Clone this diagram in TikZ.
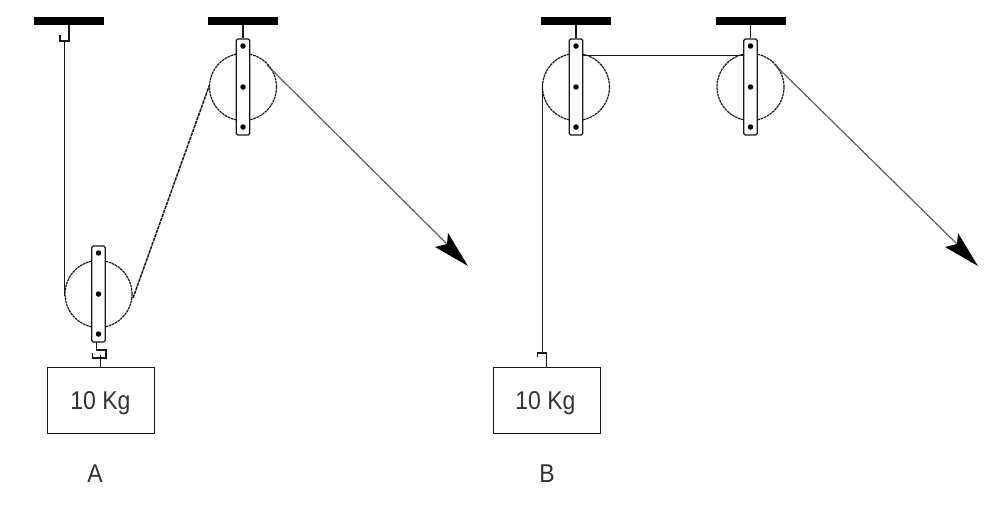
\documentclass[tikz,border=0pt]{standalone}
\usepackage{fontspec}
\usepackage{graphicx}
\setmainfont{Liberation Sans}
\tikzset{
  line/.style={draw=black!90,line width=1.3pt},
  rope/.style={draw=black!90,line width=1.6pt},
  thinrope/.style={draw=black!70,line width=1.2pt,dash pattern=on 1.7pt off .5pt},
  slant/.style={draw=black!90,line width=1.5pt,dash pattern=on 3.5pt off .8pt},
  wheel/.style={circle,draw=black!90,line width=1.2pt,dash pattern=on 2.6pt off .7pt,minimum size=67pt,inner sep=0pt,fill=white},
  strap/.style={rectangle,rounded corners=1.5pt,draw=black!90,line width=1.3pt,fill=white,minimum width=13.5pt,minimum height=96pt,inner sep=0pt},
  bar/.style={rectangle,fill=black,minimum width=70pt,minimum height=8pt,inner sep=0pt},
  hole/.style={circle,fill=black,minimum size=5.5pt,inner sep=0pt},
  load/.style={rectangle,draw=black!90,line width=1pt,minimum width=107pt,minimum height=66pt,inner sep=0pt},
  caption/.style={font=\fontsize{23}{26}\selectfont,text=black!80,inner sep=0pt},
  pulley/.pic={
    \node[wheel] (-w) at (0,0) {};
    \node[strap] (-s) at (0,0) {};
    \node[hole] (-h1) at (0,-41) {};
    \node[hole] (-h2) at (0,0) {};
    \node[hole] (-h3) at (0,40) {};
  }
}
\begin{document}
\begin{tikzpicture}[x=1pt,y=-1pt]
\useasboundingbox (0,0) rectangle (1000,507);
% --- A ---
\node[bar] (a1) at (69,21) {};
\node[bar] (a2) at (243,21) {};
\pic (pa) at (243,87) {pulley};
\pic (pb) at (98.5,294) {pulley};
\draw[line] (a2.south) -- (pa-s.north);
\coordinate (hka) at (69,41);
\coordinate (hkb) at (60,41);
\coordinate (hkc) at (60,35);
\draw[line] (a1.south) -- (hka) -- (hkb) -- (hkc);
\coordinate (ra1) at (64.5,41);
\coordinate (ra2) at (64.5,296);
\draw[rope] (ra1) -- (ra2);
\coordinate (ra3) at (133,298);
\coordinate (ra4) at (209.5,85);
\draw[slant] (ra3) -- (ra4);
\coordinate (ra5) at (267,65);
\coordinate (ra6) at (447,244);
\draw[thinrope] (ra5) -- (ra6);
\coordinate (tipa) at (468,266);
\coordinate (ba1) at (448,233);
\coordinate (ba2) at (435,247);
\fill[black] (tipa) -- (ba1) -- (ra6) -- (ba2) -- cycle;
\node[load] (la) at (100.5,400) {};
\node[caption] (ta) at (100.5,403.5) {\scalebox{1}[1.12]{10 Kg}};
\node[caption] (ca) at (95,474) {\scalebox{1}[1.12]{A}};
\coordinate (hla) at (96.7,342);
\coordinate (hlb) at (96.7,350);
\coordinate (hlc) at (106,350);
\coordinate (hld) at (106,358);
\coordinate (hle) at (92.7,358);
\coordinate (hlf) at (92.7,353);
\coordinate (hlg) at (100.7,355);
\draw[line] (hla) -- (hlb) -- (hlc) -- (hld) -- (hle) -- (hlf);
\draw[line] (hlg) -- (hlg |- la.north);
% --- B ---
\node[bar] (b1) at (576,21) {};
\node[bar] (b2) at (750.5,21) {};
\pic (pc) at (576,87) {pulley};
\pic (pd) at (750.5,87) {pulley};
\draw[line] (b1.south) -- (pc-s.north);
\draw[line] (b2.south) -- (pd-s.north);
\coordinate (rb1) at (583,55.5);
\coordinate (rb2) at (744,55.5);
\draw[rope] (rb1) -- (rb2);
\coordinate (rb3) at (542.5,83);
\coordinate (rb4) at (542.5,353);
\draw[rope] (rb3) -- (rb4);
\coordinate (rb5) at (775,65);
\coordinate (rb6) at (957,244);
\draw[thinrope] (rb5) -- (rb6);
\coordinate (tipb) at (978,266);
\coordinate (bb1) at (958,233);
\coordinate (bb2) at (945,247);
\fill[black] (tipb) -- (bb1) -- (rb6) -- (bb2) -- cycle;
\node[load] (lb) at (546.5,400.5) {};
\node[caption] (tb) at (545.5,403.5) {\scalebox{1}[1.12]{10 Kg}};
\node[caption] (cb) at (547,474) {\scalebox{1}[1.12]{B}};
\coordinate (hbb) at (537.5,353);
\coordinate (hbc) at (537.5,357);
\coordinate (hbd) at (546.5,353);
\draw[line] (hbc) -- (hbb) -- (hbd) -- (hbd |- lb.north);
\end{tikzpicture}
\end{document}
